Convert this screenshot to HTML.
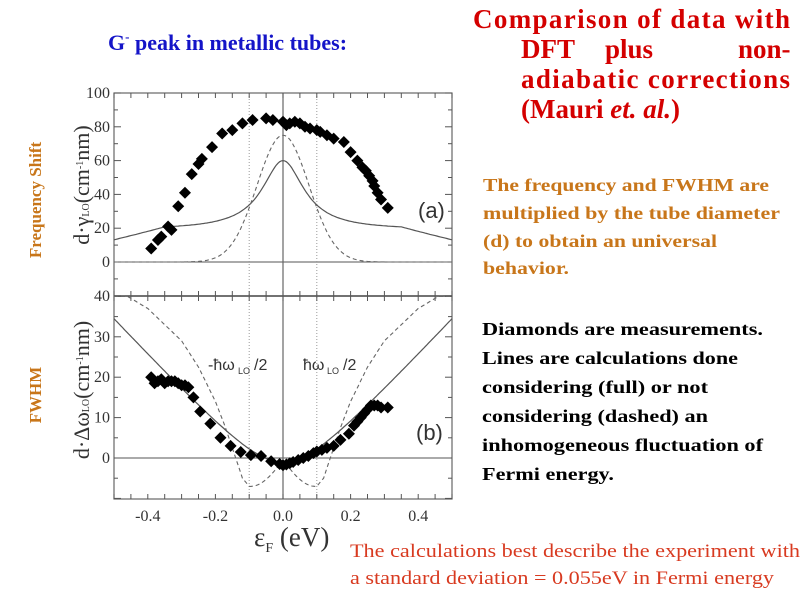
<!DOCTYPE html>
<html><head><meta charset="utf-8"><style>
html,body{margin:0;padding:0;background:#fff;width:800px;height:600px;overflow:hidden}
svg{display:block}
.s{font-family:"Liberation Serif",serif}
</style></head><body>
<svg id="g" width="800" height="600" xmlns="http://www.w3.org/2000/svg" class="s">
<text x="108" y="50" font-size="22" font-weight="bold" fill="#1414c8">G<tspan font-size="13" dy="-9">-</tspan><tspan dy="9"> peak in metallic tubes:</tspan></text>
<g font-size="27" font-weight="bold" fill="#d40000">
<text x="473" y="28" textLength="317" lengthAdjust="spacing">Comparison of data with</text>
<text x="521" y="58">DFT</text><text x="605" y="58">plus</text><text x="738" y="58">non-</text>
<text x="521" y="88" textLength="269" lengthAdjust="spacing">adiabatic corrections</text>
<text x="521" y="118">(Mauri <tspan font-style="italic">et. al.</tspan>)</text>
</g>
<g font-size="18" font-weight="bold" fill="#c8761a">
<text x="483" y="191" textLength="286" lengthAdjust="spacingAndGlyphs">The frequency and FWHM are</text>
<text x="483" y="219" textLength="297" lengthAdjust="spacingAndGlyphs">multiplied by the tube diameter</text>
<text x="483" y="247" textLength="234" lengthAdjust="spacingAndGlyphs">(d) to obtain an universal</text>
<text x="483" y="274" textLength="86" lengthAdjust="spacingAndGlyphs">behavior.</text>
</g>
<g font-size="18" font-weight="bold" fill="#000">
<text x="482" y="335" textLength="281" lengthAdjust="spacingAndGlyphs">Diamonds are measurements.</text>
<text x="482" y="364" textLength="256" lengthAdjust="spacingAndGlyphs">Lines are calculations done</text>
<text x="482" y="393" textLength="226" lengthAdjust="spacingAndGlyphs">considering (full) or not</text>
<text x="482" y="422" textLength="226" lengthAdjust="spacingAndGlyphs">considering (dashed) an</text>
<text x="482" y="451" textLength="281" lengthAdjust="spacingAndGlyphs">inhomogeneous fluctuation of</text>
<text x="482" y="480" textLength="132" lengthAdjust="spacingAndGlyphs">Fermi energy.</text>
</g>
<g font-size="19" fill="#d83a20">
<text x="350" y="557" textLength="450" lengthAdjust="spacingAndGlyphs">The calculations best describe the experiment with</text>
<text x="350" y="584" textLength="424" lengthAdjust="spacingAndGlyphs">a standard deviation = 0.055eV in Fermi energy</text>
</g>
<g font-size="17" font-weight="bold" fill="#c8761a">
<text transform="translate(41,200) rotate(-90)" text-anchor="middle">Frequency Shift</text>
<text transform="translate(41,395) rotate(-90)" text-anchor="middle">FWHM</text>
</g>
<g font-size="22" fill="#333">
<text transform="translate(89,185) rotate(-90)" text-anchor="middle">d·γ<tspan font-size="10">LO</tspan>(cm<tspan font-size="10" dy="-6">-1</tspan><tspan dy="6">nm)</tspan></text>
<text transform="translate(89,390) rotate(-90)" text-anchor="middle">d·Δω<tspan font-size="10">LO</tspan>(cm<tspan font-size="10" dy="-6">-1</tspan><tspan dy="6">nm)</tspan></text>
<text x="254" y="546" font-size="27">ε<tspan font-size="14" dy="6">F</tspan><tspan dy="-6"> (eV)</tspan></text>
</g>
<g id="plot"></g>
</svg>
<script>
var P=document.getElementById('plot'),NS='http://www.w3.org/2000/svg';
function el(t,a,txt){var e=document.createElementNS(NS,t);for(var k in a)e.setAttribute(k,a[k]);if(txt!=null)e.textContent=txt;P.appendChild(e);return e;}
var L=114,R=452;function X(v){return 283+v*338;}
function YA(v){return 262-v*1.69;} function YB(v){return 458-v*4.04;}
el('rect',{x:L,y:93,width:R-L,height:406,fill:'none',stroke:'#666','stroke-width':1.2});
el('line',{x1:L,y1:296,x2:R,y2:296,stroke:'#444','stroke-width':1.5});
el('line',{x1:L,y1:YA(0),x2:R,y2:YA(0),stroke:'#555','stroke-width':1});
el('line',{x1:L,y1:YB(0),x2:R,y2:YB(0),stroke:'#555','stroke-width':1});
el('line',{x1:X(0),y1:93,x2:X(0),y2:499,stroke:'#666','stroke-width':1.2});
[-0.1,0.1].forEach(function(v){el('line',{x1:X(v),y1:93,x2:X(v),y2:499,stroke:'#999','stroke-width':1,'stroke-dasharray':'1,2'});});
for(var v=-0.5;v<=0.501;v+=0.05){var x=X(v);el('line',{x1:x,y1:296,x2:x,y2:291,stroke:'#555'});el('line',{x1:x,y1:296,x2:x,y2:301,stroke:'#555'});el('line',{x1:x,y1:499,x2:x,y2:494,stroke:'#555'});el('line',{x1:x,y1:93,x2:x,y2:98,stroke:'#555'});}
for(var t=-20;t<=100;t+=10){var y=YA(t);el('line',{x1:L,y1:y,x2:L+(t%20?4:7),y2:y,stroke:'#555'});el('line',{x1:R,y1:y,x2:R-(t%20?4:7),y2:y,stroke:'#555'});}
for(var t=-10;t<=40;t+=5){var y=YB(t);el('line',{x1:L,y1:y,x2:L+(t%10?4:7),y2:y,stroke:'#555'});el('line',{x1:R,y1:y,x2:R-(t%10?4:7),y2:y,stroke:'#555'});}
var tf={'font-family':'Liberation Serif,serif','font-size':16,fill:'#333','text-anchor':'end'};
[0,20,40,60,80,100].forEach(function(t){el('text',Object.assign({x:110,y:YA(t)+5},tf),t);});
el('text',Object.assign({x:110,y:301},tf),'40');
[0,10,20,30].forEach(function(t){el('text',Object.assign({x:110,y:YB(t)+5},tf),t);});
['-0.4','-0.2','0.0','0.2','0.4'].forEach(function(s){el('text',{x:X(+s),y:521,'font-family':'Liberation Serif,serif','font-size':16,fill:'#333','text-anchor':'middle'},s);});
el('text',{x:418,y:218,'font-family':'Liberation Sans,sans-serif','font-size':22,fill:'#333'},'(a)');
el('text',{x:416,y:440,'font-family':'Liberation Sans,sans-serif','font-size':22,fill:'#333'},'(b)');
var sf={'font-family':'Liberation Sans,sans-serif',fill:'#333'};
el('text',Object.assign({x:208,y:370,'font-size':16},sf),'-ħω');
el('text',Object.assign({x:303,y:370,'font-size':16},sf),'ħω');
el('text',Object.assign({x:238,y:374,'font-size':9},sf),'LO');
el('text',Object.assign({x:254,y:370,'font-size':16},sf),'/2');
el('text',Object.assign({x:327,y:374,'font-size':9},sf),'LO');
el('text',Object.assign({x:343,y:370,'font-size':16},sf),'/2');
function path(f,Y,lo,hi){var d='';for(var v=-0.5;v<=0.5001;v+=0.005){var y=Math.max(lo,Math.min(hi,f(v)));d+=(d?'L':'M')+X(v).toFixed(1)+','+Y(y).toFixed(1);}return d;}
function fa(x){var a=Math.abs(x);var r=19+41/(1+Math.pow(x/0.075,2));if(a>0.35)r-=(a-0.35)*45;return r;}
function ga(x){return 75*Math.exp(-x*x/(2*0.0767*0.0767));}
function fb(x){return 90*(Math.sqrt(x*x+0.0144)-0.12)-1;}
var U=[[0,0],[0.02,2],[0.04,7],[0.07,14.5],[0.1,21],[0.15,29.5],[0.2,36],[0.3,44],[0.36,47],[0.45,51]];
function interp(u){for(var i=1;i<U.length;i++){if(u<=U[i][0]){var a=U[i-1],b=U[i];return a[1]+(b[1]-a[1])*(u-a[0])/(b[0]-a[0]);}}return 51;}
function gb(x){var a=Math.abs(x);if(a<=0.1)return -7*Math.sin(Math.PI*a/0.2)-0.5*Math.cos(Math.PI*a/0.2);return -7+interp(a-0.1);}
el('path',{d:path(fa,YA,-20,100),fill:'none',stroke:'#555','stroke-width':1.2});
el('path',{d:path(ga,YA,-20,100),fill:'none',stroke:'#666','stroke-width':1.1,'stroke-dasharray':'4,3'});
el('path',{d:path(fb,YB,-15,40),fill:'none',stroke:'#555','stroke-width':1.2});
el('path',{d:path(gb,YB,-15,40),fill:'none',stroke:'#666','stroke-width':1.1,'stroke-dasharray':'4,3'});
function dia(x,y){var r=6;el('path',{d:'M'+x+','+(y-r)+'L'+(x+r)+','+y+'L'+x+','+(y+r)+'L'+(x-r)+','+y+'Z',fill:'#000'});}
var A=[[-0.39,8],[-0.37,13],[-0.36,15],[-0.34,21],[-0.33,19],[-0.31,33],[-0.29,41],[-0.27,52],[-0.25,58],[-0.24,61],[-0.21,68],[-0.18,76],[-0.15,78],[-0.12,82],[-0.09,84],[-0.05,85],[-0.03,84],[0.0,83],[0.01,81],[0.02,82],[0.035,83],[0.05,82],[0.065,80],[0.08,79],[0.1,78],[0.11,77],[0.13,75],[0.15,73],[0.18,71],[0.2,65],[0.22,60],[0.235,56],[0.245,54],[0.255,51],[0.265,48],[0.27,45],[0.28,41],[0.29,37],[0.31,32]];
A.forEach(function(p){dia(X(p[0]),YA(p[1]));});
var B=[[-0.39,20],[-0.38,18.5],[-0.37,19],[-0.36,19.5],[-0.35,18.5],[-0.34,19],[-0.33,19],[-0.32,19],[-0.31,18.5],[-0.3,18],[-0.29,18],[-0.28,17.5],[-0.265,15],[-0.245,11.5],[-0.215,8.5],[-0.185,5],[-0.155,3],[-0.125,1.5],[-0.095,0.7],[-0.065,0.5],[-0.035,-0.8],[-0.01,-1.5],[0.0,-1.8],[0.01,-1.6],[0.02,-1.3],[0.03,-1],[0.045,-0.5],[0.06,0],[0.075,0.5],[0.09,1.2],[0.1,1.6],[0.115,2],[0.13,2.5],[0.15,3],[0.17,4.5],[0.195,6],[0.21,8],[0.22,9],[0.23,10],[0.24,11],[0.25,12],[0.26,13],[0.27,13],[0.28,13],[0.29,12.5],[0.31,12.5]];
B.forEach(function(p){dia(X(p[0]),YB(p[1]));});
</script>
</body></html>
